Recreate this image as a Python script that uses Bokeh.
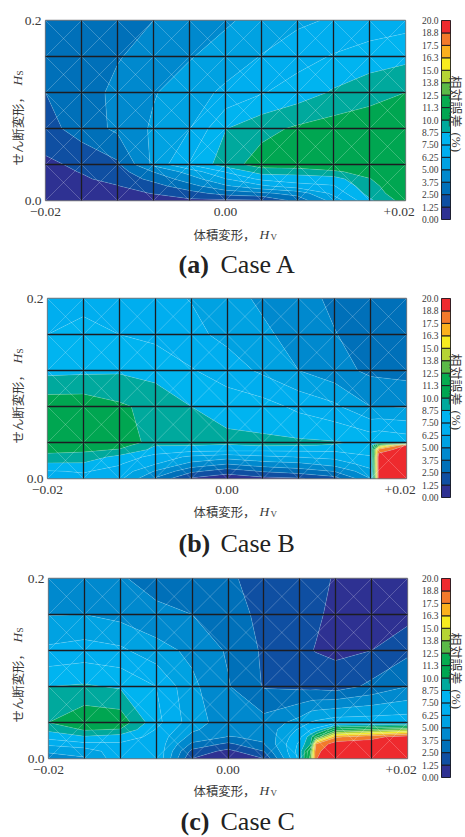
import math
from bokeh.plotting import figure
from bokeh.layouts import column, row
from bokeh.models import FixedTicker, Label
from bokeh.embed import file_html
from bokeh.resources import INLINE

LEVELS = [0, 1.25, 2.5, 3.75, 5, 6.25, 7.5, 8.75, 10, 11.25, 12.5, 13.75, 15, 16.25, 17.5, 18.75, 20]
LEVEL_LABELS = ["0.00", "1.25", "2.50", "3.75", "5.00", "6.25", "7.50", "8.75", "10.0", "11.3", "12.5",
                "13.8", "15.0", "16.3", "17.5", "18.8", "20.0"]
COLORS = ["#2E3192", "#0F4FA2", "#0070B9", "#0089CE", "#00A2E2", "#00AEEF", "#00B4F0", "#00A99D",
          "#00A651", "#07AB50", "#5BB947", "#B5D334", "#F8EC1F", "#FBB01E", "#F37A2B", "#EE2A2E"]

CELL_X = [-0.02, -0.016, -0.012, -0.008, -0.004, 0.0, 0.004, 0.008, 0.012, 0.016, 0.02]
CELL_Y = [0.0, 0.04, 0.08, 0.12, 0.16, 0.2]

X_A = [-0.02, -0.016, -0.012, -0.008, -0.004, 0.0, 0.004, 0.008, 0.012, 0.016, 0.02]
Y_A = [0, 0.008, 0.016, 0.024, 0.032, 0.04, 0.08, 0.12, 0.16, 0.2]
Z_A = [
    [.5, .5, .6, .7, 1.0, 1.0, 1.1, 3.0, 5.5, 8.5, 10.6],
    [.6, .7, .9, 1.3, 2.0, 3.0, 3.5, 4.2, 6.6, 9.2, 11],
    [.7, .9, 1.2, 2.0, 3.3, 4.8, 6.0, 7.0, 7.4, 9.6, 11],
    [.8, 1.1, 1.6, 2.9, 4.4, 6.2, 7.8, 8.2, 8.2, 9.95, 11],
    [.9, 1.3, 1.9, 3.8, 5.5, 7.6, 9.3, 9.2, 9.8, 10.5, 11],
    [1.0, 1.5, 2.3, 5.3, 7.6, 9.4, 10.6, 10.9, 11, 11, 11],
    [2.0, 3.1, 4.0, 5.2, 6.2, 8.7, 9.6, 10.2, 10.6, 10.8, 10.9],
    [2.5, 3.1, 4.1, 4.9, 5.7, 6.5, 7.4, 8.1, 8.9, 9.5, 10.0],
    [2.9, 3.1, 3.65, 4.3, 4.9, 5.6, 6.3, 7.0, 7.6, 8.1, 8.4],
    [2.9, 3.0, 3.3, 3.75, 4.3, 4.8, 5.5, 6.0, 6.4, 6.7, 7.0],
]

X_B = [-0.02, -0.016, -0.012, -0.008, -0.004, 0.0, 0.004, 0.008, 0.012, 0.016, 0.0169, 0.02]
Y_B = [0, 0.008, 0.016, 0.024, 0.032, 0.037, 0.04, 0.08, 0.12, 0.16, 0.2]
Z_B = [
    [6.8, 7.2, 6.6, 3.6, 1.1, .4, .9, 1.1, 2.0, 5.0, 19.5, 19.5],
    [7.4, 7.6, 7.1, 4.9, 2.8, 1.8, 2.6, 3.1, 3.8, 5.9, 19.5, 19.5],
    [8.6, 8.6, 7.6, 6.3, 4.6, 3.75, 4.4, 4.7, 5.5, 6.8, 19.5, 19.5],
    [9.5, 9.4, 8.4, 7.0, 6.0, 5.5, 6.0, 6.3, 6.6, 7.4, 19.5, 19.5],
    [10.5, 10.3, 9.9, 8.4, 8.0, 7.9, 7.8, 7.8, 7.8, 8.0, 18, 19.5],
    [10.8, 11, 10.6, 8.8, 8.8, 8.6, 8.9, 8.8, 8.7, 8.2, 13, 18.8],
    [10.9, 11, 10.8, 9.5, 9.3, 9.1, 9.0, 8.95, 8.85, 8.5, 8.7, 8.3],
    [10.8, 10.8, 10.2, 9.6, 8.75, 8.2, 8.0, 7.2, 6.5, 5.0, 5.0, 4.9],
    [8.4, 8.5, 8.6, 8.3, 7.6, 6.9, 6.0, 5.0, 4.2, 3.5, 3.45, 3.3],
    [7.5, 7.6, 7.5, 7.2, 6.6, 5.9, 5.2, 4.6, 3.8, 3.2, 3.15, 3.1],
    [7.4, 7.4, 7.2, 6.6, 6.2, 5.4, 4.8, 4.2, 3.5, 3.0, 3.0, 3.0],
]

X_C = [-0.02, -0.016, -0.012, -0.008, -0.004, 0.0, 0.004, 0.008, 0.0092, 0.0098, 0.012, 0.016, 0.02]
Y_C = [0, 0.008, 0.016, 0.024, 0.032, 0.04, 0.08, 0.12, 0.16, 0.2]
Z_C = [
    [4.3, 4.9, 7.1, 7.5, 1.25, .5, 1.25, 8.0, 13, 18.7, 19.5, 19.5, 19.5],
    [5.2, 5.4, 7.2, 7.4, 2.1, .85, 2.5, 8.2, 12.5, 18.5, 19.5, 19.5, 19.5],
    [6.5, 7.2, 7.3, 7.2, 3.5, 2.2, 3.7, 7.8, 10, 17.5, 19.5, 19.5, 19.5],
    [8.0, 8.6, 8.2, 7.1, 4.6, 3.7, 3.9, 7.2, 9.5, 11.5, 17.3, 18.3, 19.5],
    [9.0, 10.1, 9.9, 7.4, 5.2, 4.2, 4.1, 6.5, 7.5, 7.8, 11.8, 12.8, 13.8],
    [10.0, 11.0, 10.8, 7.9, 5.6, 4.3, 4.2, 5.5, 6.3, 6.5, 7, 7, 7],
    [8.75, 8.9, 8.6, 7.5, 5.3, 3.85, 2.4, 2.2, 2.1, 2.1, 1.9, 2.8, 3.75],
    [6.5, 6.8, 6.5, 5.5, 4.7, 3.6, 2.3, 1.4, 1.3, 1.2, 1.0, 1.25, 2.2],
    [4.95, 5.0, 4.6, 4.1, 3.75, 3.0, 2.2, 1.8, 1.55, 1.4, 1.0, .9, .8],
    [4.4, 4.3, 3.9, 3.2, 2.9, 2.7, 2.0, 1.6, 1.5, 1.4, 1.2, 1.0, 1.0],
]

X_TICK_LABELS = {-0.02: "\u22120.02", 0.0: "0.00", 0.0193: "+0.02"}
Y_TICK_LABELS = {0.0: "0.0", 0.2: "0.2"}
Y_LABEL = "せん断変形，"
X_LABEL = "体積変形，"
CB_LABEL = "相対誤差"
CB_UNIT = "(%)"
CASES = [("(a)", "Case A"), ("(b)", "Case B"), ("(c)", "Case C")]
SERIF = "Liberation Serif"
CJK = "Noto Sans CJK JP"
TEXT = "#3a3a3a"


def panel(x, y, z, top, left):
    fw, fh = 360 if left == 45 else 359, 180
    p = figure(frame_width=fw, frame_height=fh, min_border_top=top, min_border_left=left,
               min_border_right=418 - left - fw, min_border_bottom=279 - top - fh,
               x_range=(-0.02, 0.02), y_range=(0, 0.2), output_backend="svg", toolbar_location=None,
               background_fill_color=None, border_fill_color=None)
    p.contour(x, y, z, LEVELS, fill_color=COLORS, line_color="#b8e6f5", line_width=0.5, line_alpha=0.42)
    x0, x1, y0, y1 = [], [], [], []
    for i in range(len(CELL_X) - 1):
        for j in range(len(CELL_Y) - 1):
            x0 += [CELL_X[i], CELL_X[i]]
            x1 += [CELL_X[i + 1], CELL_X[i + 1]]
            y0 += [CELL_Y[j], CELL_Y[j + 1]]
            y1 += [CELL_Y[j + 1], CELL_Y[j]]
    p.segment(x0, y0, x1, y1, line_color="#ffffff", line_width=0.5, line_alpha=0.45)
    for g, t in ((p.xgrid, CELL_X[1:-1]), (p.ygrid, CELL_Y[1:-1])):
        g.ticker = FixedTicker(ticks=t)
        g.grid_line_color = "#1c1c22"
        g.grid_line_width = 1.3
        g.level = "overlay"
    p.outline_line_color = "#77777c"
    p.outline_line_width = 1.3
    p.xaxis.ticker = FixedTicker(ticks=list(X_TICK_LABELS))
    p.xaxis.major_label_overrides = X_TICK_LABELS
    p.yaxis.ticker = FixedTicker(ticks=list(Y_TICK_LABELS))
    p.yaxis.major_label_overrides = Y_TICK_LABELS
    for ax in (p.xaxis, p.yaxis):
        ax.axis_line_color = None
        ax.major_tick_line_color = None
        ax.minor_tick_line_color = None
        ax.major_tick_out = 0
        ax.major_tick_in = 0
        ax.minor_tick_out = 0
        ax.major_label_text_font = SERIF
        ax.major_label_text_font_size = "13.5px"
        ax.major_label_text_color = TEXT
    p.xaxis.major_label_standoff = 7
    p.yaxis.major_label_standoff = 4
    return p


def colorbar(top):
    fh = 199
    c = figure(frame_width=9, frame_height=fh, min_border_top=top, min_border_left=22, min_border_right=16,
               min_border_bottom=279 - top - fh, x_range=(0, 1), y_range=(0, 20), output_backend="svg",
               toolbar_location=None, background_fill_color=None, border_fill_color=None)
    c.quad(left=0, right=1, bottom=LEVELS[:-1], top=LEVELS[1:], fill_color=COLORS, line_color="#1c1c22", line_width=1)
    c.xaxis.visible = False
    c.grid.visible = False
    c.outline_line_color = "#1c1c22"
    c.yaxis.ticker = FixedTicker(ticks=LEVELS)
    c.yaxis.major_label_overrides = dict(zip(LEVELS, LEVEL_LABELS))
    c.yaxis.axis_line_color = None
    c.yaxis.major_tick_line_color = None
    c.yaxis.minor_tick_line_color = None
    c.yaxis.major_tick_out = 0
    c.yaxis.major_tick_in = 0
    c.yaxis.minor_tick_out = 0
    c.yaxis.major_label_text_font = SERIF
    c.yaxis.major_label_text_font_size = "9.5px"
    c.yaxis.major_label_text_color = TEXT
    c.yaxis.major_label_standoff = 3
    return c


# transparent sheet over the whole page, in page pixels, that carries the free texts
sheet = figure(width=465, height=837, x_range=(0, 465), y_range=(837, 0), min_border=0,
               output_backend="svg", toolbar_location=None, background_fill_color=None,
               border_fill_color=None, outline_line_color=None, margin=(-837, 0, 0, 0))
sheet.axis.visible = False
sheet.grid.visible = False


def lab(xa, ya, text, size, font=SERIF, style="normal", angle=0.0, color=TEXT):
    sheet.add_layout(Label(x=xa, y=ya, text=text, text_font=font, text_font_size=f"{size}px",
                           text_font_style=style, text_align="left", text_baseline="middle",
                           angle=angle, text_color=color))


for k, (cy, ty, uy, (tag, name)) in enumerate(zip((264, 543, 821), (0, 278, 557), (75, 353, 632), CASES)):
    lab(17, 165 + ty, Y_LABEL, 12.4, CJK, angle=math.pi / 2)
    lab(17, 85 + ty, "H", 13.5, SERIF, "italic", angle=math.pi / 2)
    lab(19, 75 + ty, "S", 9, SERIF, angle=math.pi / 2)
    lab(193, 234 + ty - (1 if k else 0), X_LABEL, 12.4, CJK)
    lab(259, 234 + ty - (1 if k else 0), "H", 13.5, SERIF, "italic")
    lab(270, 236 + ty - (1 if k else 0), "V", 9, SERIF)
    lab(178 + (2 if k == 2 else 0), cy, tag, 26, SERIF, "bold", color="#222222")
    lab(220, cy, name, 26, SERIF, color="#222222")
    lab(456, uy, CB_LABEL, 13, CJK, angle=-math.pi / 2)
    lab(456, uy + 57, CB_UNIT, 13, SERIF, angle=-math.pi / 2)

root = column(
    row(panel(X_A, Y_A, Z_A, 20, 45), colorbar(10)),
    row(panel(X_B, Y_B, Z_B, 19, 47), colorbar(10)),
    row(panel(X_C, Y_C, Z_C, 20, 48), colorbar(9)),
    sheet,
)
open("out.html", "w").write(file_html(root, INLINE))
